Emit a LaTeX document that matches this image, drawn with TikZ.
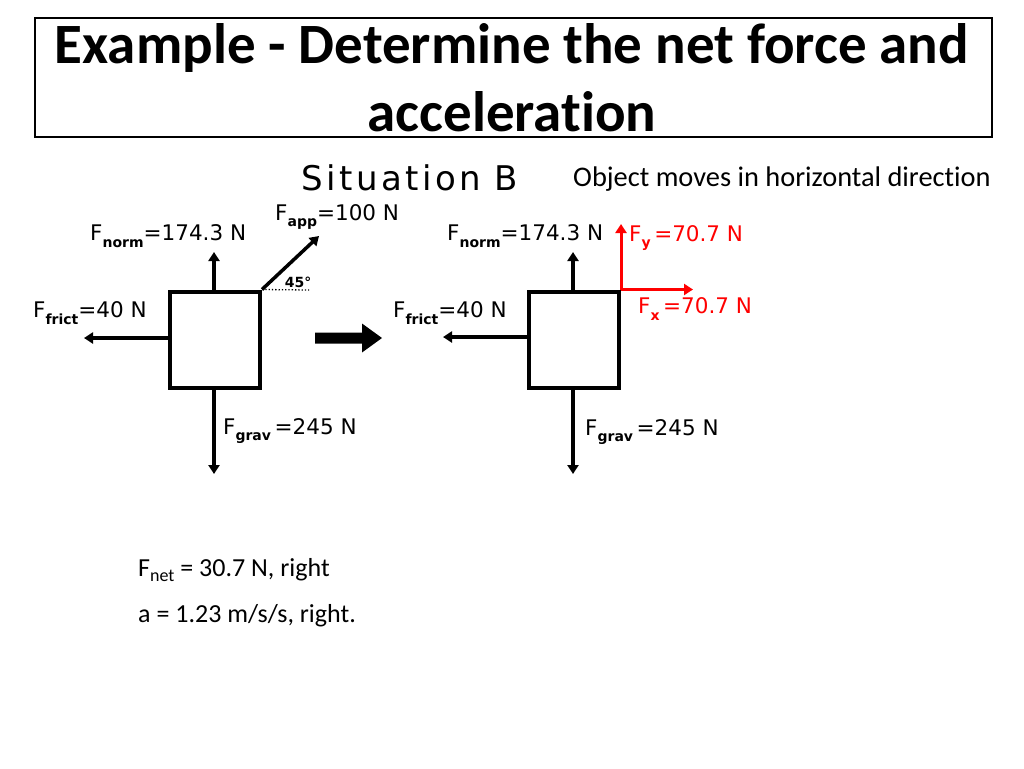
\documentclass[tikz,border=0pt]{standalone}
\usepackage{fontspec}
\setmainfont[Ligatures=CommonOff]{Carlito}
\newfontfamily\chic{DejaVu Sans}
\newfontfamily\chicsp[LetterSpace=10]{DejaVu Sans}
\usetikzlibrary{arrows.meta}
\newcommand{\FL}[2]{F\raisebox{-0.55ex}{\fontsize{14}{14}\selectfont\bfseries #1}#2}
\newcommand{\FS}[2]{F\raisebox{-0.45ex}{\fontsize{18}{18}\selectfont #1}#2}
\tikzset{
  force/.style={line width=3.5pt, -{Triangle[length=9pt,width=11pt]}},
  redforce/.style={force, draw=red, line width=3pt},
  body/.style={draw, line width=4pt, minimum width=90pt, minimum height=96pt, inner sep=0pt},
  lab/.style={font=\chic\fontsize{21.5}{21.5}\selectfont, inner sep=0pt, anchor=west},
  redlab/.style={lab, text=red},
  txt/.style={font=\fontsize{26}{30}\selectfont, inner sep=0pt, anchor=west}
}
\begin{document}
\begin{tikzpicture}[x=1pt,y=-1pt]
\useasboundingbox[fill=white] (0,0) rectangle (1024,768);
% title
\node[draw, line width=2pt, minimum width=957pt, minimum height=119pt, anchor=north west, inner sep=0pt] (titlebox) at (34,17) {};
\node[font=\bfseries\fontsize{57}{68}\selectfont, align=center, inner sep=0pt] (title) at (512,78) {Example - Determine the net force and\\acceleration};
\node[font=\chicsp\fontsize{34}{34}\selectfont, inner sep=0pt] (sit) at (410,178) {Situation B};
\node[txt, font=\fontsize{28.4}{30}\selectfont] (moves) at (573,179) {Object moves in horizontal direction};
% left diagram
\node[body] (boxA) at (215,339.5) {};
\coordinate (upA) at (214,252);
\coordinate (dnA) at (214,474);
\coordinate (ltA) at (84,338);
\coordinate (diagA) at (319,236);
\coordinate (dotA) at (309,290);
\draw[force] (boxA.north -| upA) -- (upA);
\draw[force] (boxA.south -| dnA) -- (dnA);
\draw[force] (boxA.west |- ltA) -- (ltA);
\draw[force] (boxA.north east) -- (diagA);
\draw[line width=1.3pt, dotted] (boxA.north east) -- (dotA);
\node[font=\chic\bfseries\fontsize{14}{14}\selectfont, inner sep=0pt] (angA) at (298,282) {45\textdegree};
\node[lab] (normA) at (90,236) {\FL{norm}{=174.3 N}};
\node[lab] (appA) at (275,217) {\FL{app}{=100 N}};
\node[lab] (frictA) at (33,313) {\FL{frict}{=40 N}};
\node[lab] (gravA) at (223,431) {\FL{grav}{\,=245 N}};
% big arrow
\node[inner sep=0pt] (bigarrow) at (348,338) {};
\fill (315,332.5) -- (362,332.5) -- (362,323.5) -- (382,338) -- (362,352.5) -- (362,343.5) -- (315,343.5) -- cycle;
% right diagram
\node[body] (boxB) at (574,339.5) {};
\coordinate (upB) at (573,252);
\coordinate (dnB) at (573,474);
\coordinate (ltB) at (443,337);
\coordinate (fyB) at (621,224);
\coordinate (fxB) at (693,289.5);
\draw[force] (boxB.north -| upB) -- (upB);
\draw[force] (boxB.south -| dnB) -- (dnB);
\draw[force] (boxB.west |- ltB) -- (ltB);
\draw[redforce] (boxB.north east) -- (fyB);
\draw[redforce] (boxB.north east) -- (fxB);
\node[lab] (normB) at (447,236) {\FL{norm}{=174.3 N}};
\node[redlab] (fyL) at (629,238) {\FL{y}{\,=70.7 N}};
\node[redlab] (fxL) at (638,309) {\FL{x}{\,=70.7 N}};
\node[lab] (frictB) at (393,313) {\FL{frict}{=40 N}};
\node[lab] (gravB) at (585,432) {\FL{grav}{\,=245 N}};
% results
\node[txt] (fnet) at (138,570) {\FS{net}{ = 30.7 N, right}};
\node[txt] (acc) at (138,616) {a = 1.23 m/s/s, right.};
\end{tikzpicture}
\end{document}
